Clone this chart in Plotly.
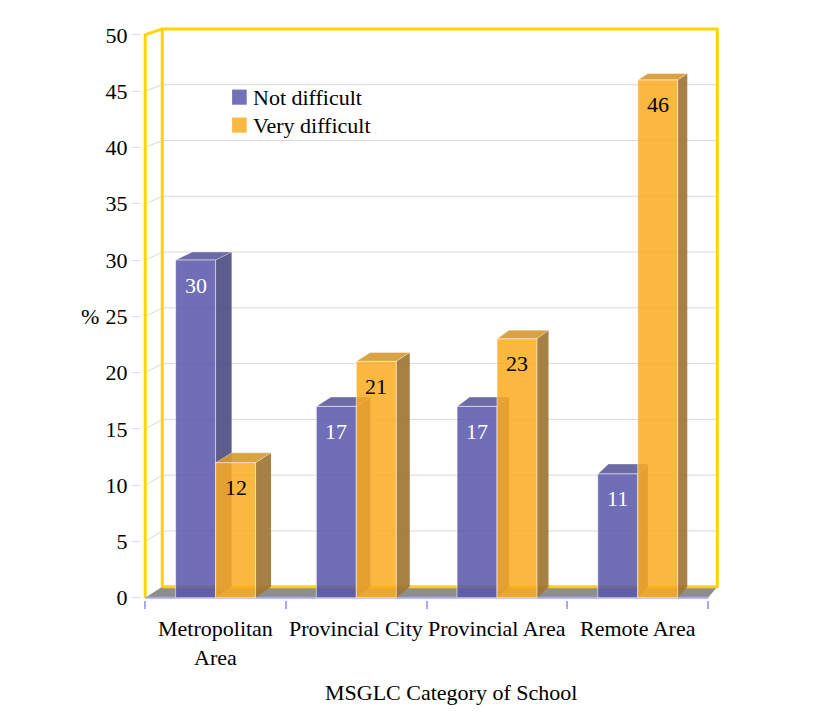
import plotly.graph_objects as go

# ---- data -------------------------------------------------------------
categories = ["Metropolitan<br>Area", "Provincial City", "Provincial Area", "Remote Area"]
series_names = ["Not difficult", "Very difficult"]
not_difficult = [30, 17, 17, 11]
very_difficult = [12, 21, 23, 46]
y_tick_values = [0, 5, 10, 15, 20, 25, 30, 35, 40, 45, 50]
y_max = 50
x_title = "MSGLC Category of School"
y_title = "%"

# ---- styling ----------------------------------------------------------
FONT = "Liberation Serif, Times New Roman, serif"
FS = 22
GOLD = "#FFD400"
LAVENDER = "#A8A8F0"
GRID = "#D8D8D8"
FLOOR = "#8E8E8E"
BAR_W = 0.284  # bar width in category units

styles = [
    dict(front="rgba(89,86,171,0.86)", side="rgba(78,78,132,0.92)",
         top="rgba(96,94,158,0.92)", label="white", key="#7370B8"),
    dict(front="rgba(250,172,34,0.86)", side="rgba(160,117,52,0.92)",
         top="rgba(214,154,52,0.92)", label="black", key="#FBB843"),
]

# oblique projection of the back plane (slight perspective)
DX0, SX = 0.121, 0.986
DY0, SY = 0.98, 0.991


def back(x, v):
    return DX0 + SX * x, DY0 + SY * v


n = len(categories)
X_RANGE = [-0.03, 4.12]
Y_RANGE = [-0.2, 51.5]
fig = go.Figure()


def poly(pts, color, line_color="rgba(0,0,0,0)", width=0):
    xs = [p[0] for p in pts] + [pts[0][0]]
    ys = [p[1] for p in pts] + [pts[0][1]]
    fig.add_trace(go.Scatter(x=xs, y=ys, mode="lines", fill="toself",
                             fillcolor=color, line=dict(color=line_color, width=width),
                             hoverinfo="skip", showlegend=False))


def polyline(xs, ys, color, width):
    fig.add_trace(go.Scatter(x=xs, y=ys, mode="lines",
                             line=dict(color=color, width=width),
                             hoverinfo="skip", showlegend=False))


# floor
poly([(0, 0), (n, 0), back(n, 0), back(0, 0)], FLOOR)

# gridlines: left wall diagonals + back wall horizontals
gx, gy = [], []
for v in y_tick_values[1:-1]:
    bx0, by = back(0, v)
    bxn, _ = back(n, v)
    gx += [0, bx0, bxn, None]
    gy += [v, by, by, None]
polyline(gx, gy, GRID, 1)

# back wall frame and left wall edges
wall = [back(0, 0), back(n, 0), back(n, y_max), back(0, y_max), back(0, 0)]
polyline([p[0] for p in wall], [p[1] for p in wall], GOLD, 3)
tl = back(0, y_max)
polyline([0, 0, tl[0]], [0, y_max, tl[1]], GOLD, 3)

# front floor edge
polyline([0, n], [0, 0], LAVENDER, 2)

# 3-D bars
annotations = []
for i in range(n):
    c = i + 0.5
    for s, vals in enumerate([not_difficult, very_difficult]):
        v = vals[i]
        st = styles[s]
        xl = c - BAR_W if s == 0 else c
        xr = xl + BAR_W
        # right side face
        poly([(xr, 0), (xr, v), back(xr, v), back(xr, 0)], st["side"])
        # top face
        poly([(xl, v), (xr, v), back(xr, v), back(xl, v)], st["top"],
             "rgba(255,255,255,0.35)", 1)
        # front face
        poly([(xl, 0), (xr, 0), (xr, v), (xl, v)], st["front"],
             "rgba(255,255,255,0.55)", 1)
        annotations.append(dict(x=(xl + xr) / 2, y=v, xref="x", yref="y",
                                text=str(v), showarrow=False, yshift=-25,
                                font=dict(family=FONT, size=FS, color=st["label"])))

# legend key (squares + labels placed in paper space)
shapes = []
for s, name in enumerate(series_names):
    y0 = 0.851 - s * 0.048
    shapes.append(dict(type="rect", xref="paper", yref="paper",
                       x0=0.156, x1=0.181, y0=y0, y1=y0 + 0.026,
                       fillcolor=styles[s]["key"], line=dict(width=0)))
    annotations.append(dict(x=0.189, y=y0 + 0.013, xref="paper", yref="paper",
                            text=name, showarrow=False, xanchor="left",
                            yanchor="middle",
                            font=dict(family=FONT, size=FS, color="black")))

# category labels
for i, cat in enumerate(categories):
    annotations.append(dict(x=i + 0.5, y=0, xref="x", yref="y", text=cat,
                            showarrow=False, yanchor="top", yshift=-16,
                            font=dict(family=FONT, size=FS, color="black")))

annotations.append(dict(x=2.17, y=0, xref="x", yref="y", text=x_title,
                        showarrow=False, yanchor="top", yshift=-80,
                        font=dict(family=FONT, size=FS, color="black")))
annotations.append(dict(x=0, y=25, xref="x", yref="y", text=y_title,
                        showarrow=False, xanchor="center", xshift=-55,
                        font=dict(family=FONT, size=FS, color="black")))

fig.update_layout(
    width=819, height=715,
    margin=dict(l=141, r=94, t=18, b=115),
    paper_bgcolor="white", plot_bgcolor="white",
    font=dict(family=FONT, size=FS, color="black"),
    showlegend=False,
    annotations=annotations,
    shapes=shapes,
    xaxis=dict(range=X_RANGE, showgrid=False, zeroline=False, showline=False,
               tickvals=list(range(n + 1)), ticktext=[""] * (n + 1),
               ticks="outside", ticklen=8, tickwidth=2, tickcolor=LAVENDER,
               fixedrange=True),
    yaxis=dict(range=Y_RANGE, showgrid=False, zeroline=False, showline=False,
               tickvals=y_tick_values, ticks="outside", ticklen=8, tickwidth=1,
               tickcolor="#D8D8F4", tickfont=dict(family=FONT, size=FS, color="black"),
               fixedrange=True),
)

fig.write_html("out.html")
